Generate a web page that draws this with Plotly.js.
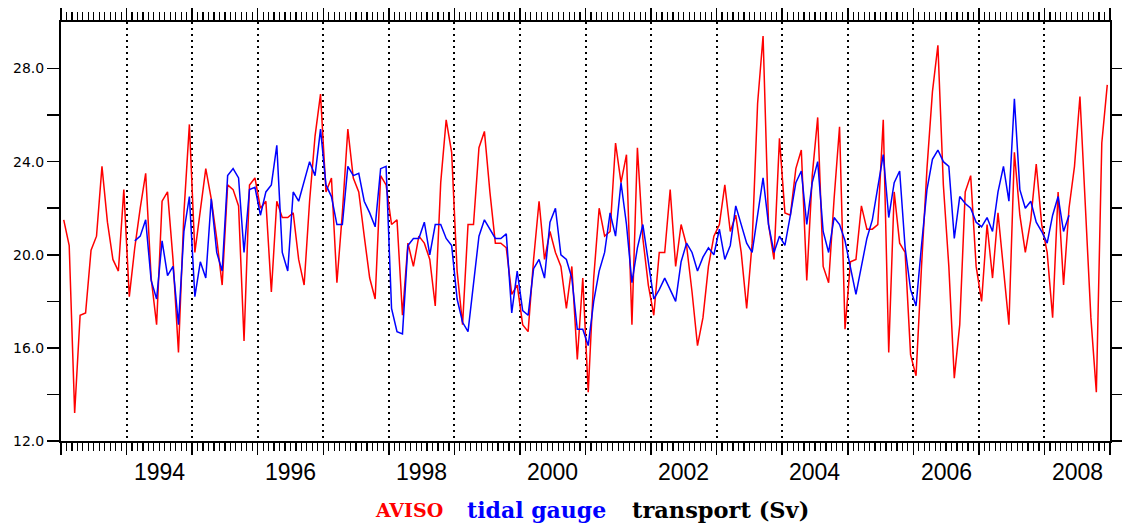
<!DOCTYPE html>
<html>
<head>
<meta charset="utf-8">
<script src="https://cdn.plot.ly/plotly-3.0.1.min.js"></script>
<style>html,body{margin:0;padding:0;background:#fff;}#chart{width:1122px;height:530px;}</style>
</head>
<body>
<div id="chart"></div>
<script>
// Monthly series, AVISO starts Jan 1993, tidal gauge starts Feb 1994
var avisoStart = 1993, avisoStartMonth = 1;
var gaugeStart = 1994, gaugeStartMonth = 2;

var aviso = [
21.5,20.4,13.2,17.4,17.5,20.2,20.8,23.8,21.4,19.8,19.3,22.8,
18.2,20.3,22.0,23.5,19.0,17.0,22.3,22.7,19.8,15.8,21.8,25.6,
20.1,21.8,23.7,22.4,20.7,18.7,23.0,22.8,22.1,16.3,23.0,23.3,
22.0,22.3,18.4,22.3,21.6,21.6,21.8,19.8,18.7,22.3,25.1,26.9,
22.7,23.3,18.8,21.8,25.4,23.3,22.7,20.8,19.0,18.1,23.4,23.0,
21.3,21.5,17.4,20.5,19.5,20.8,20.5,19.8,17.8,23.1,25.8,24.4,
19.3,17.0,21.3,21.3,24.6,25.3,22.7,20.5,20.5,20.3,18.3,18.7,
17.0,16.7,19.8,22.3,19.8,21.0,20.1,19.5,17.7,19.5,15.5,19.0,
14.1,19.0,22.0,20.8,21.0,24.8,23.1,24.3,17.0,24.6,20.7,18.7,
17.4,20.1,20.1,22.8,19.5,21.3,20.4,18.4,16.1,17.3,19.5,20.8,
21.3,23.0,21.0,21.7,20.1,17.7,20.5,26.5,29.4,21.3,19.8,25.0,
21.8,21.7,23.7,24.5,18.9,23.4,25.9,19.5,18.8,22.4,25.5,16.8,
19.7,19.8,22.1,21.1,21.1,21.3,25.8,15.8,22.7,20.5,20.1,15.7,
14.8,19.5,23.7,27.0,29.0,23.0,19.5,14.7,17.0,22.7,23.4,19.5,
18.0,21.3,19.0,21.8,19.5,17.0,24.4,21.7,20.1,21.5,23.9,21.3,
20.1,17.3,22.7,18.7,22.0,23.8,26.8,22.1,17.3,14.1,24.8,27.3
];

var gauge = [
20.6,20.8,21.5,18.9,18.1,20.6,19.1,19.5,17.0,21.0,22.5,
18.2,19.7,19.0,22.4,20.1,19.3,23.4,23.7,23.3,20.1,22.8,22.9,
21.7,22.7,23.0,24.7,20.1,19.3,22.7,22.3,23.1,24.0,23.4,25.4,
23.0,22.5,21.3,21.3,23.8,23.4,23.5,22.3,21.8,21.2,23.7,23.8,
17.7,16.7,16.6,20.4,20.7,20.7,21.4,20.0,21.3,21.3,20.7,20.4,
18.1,17.1,16.7,18.8,20.8,21.5,21.1,20.7,20.7,20.9,17.5,19.3,
17.6,17.4,19.4,19.8,19.0,21.4,22.0,20.0,19.8,19.0,16.8,16.8,
16.1,18.0,19.3,20.1,21.8,20.8,23.1,21.3,18.8,20.3,21.3,19.8,
18.1,18.5,19.0,18.5,18.0,19.7,20.5,20.1,19.3,19.9,20.3,20.0,
21.1,19.8,20.4,22.1,21.3,20.5,20.1,21.8,23.3,21.3,20.1,20.8,
20.4,21.7,23.1,23.6,21.3,23.1,24.0,21.0,20.1,21.6,21.3,20.6,
19.5,18.3,19.5,20.7,21.5,23.0,24.3,21.6,23.1,23.6,20.3,18.5,
17.8,20.4,22.8,24.1,24.5,24.0,23.8,20.7,22.5,22.2,22.0,21.4,
21.2,21.6,21.0,22.7,23.8,22.3,26.7,22.8,22.0,22.3,21.4,21.0,
20.5,21.7,22.5,21.0,21.7
];

var yearLabels = ['1994','1996','1998','2000','2002','2004','2006','2008'];
var yTickVals = [12,14,16,18,20,22,24,26,28];
var yTickText = ['12.0','','16.0','','20.0','','24.0','','28.0'];
var seriesNames = ['AVISO','tidal gauge'];
var unitLabel = 'transport (Sv)';

function monthTimes(startYear, startMonth, n){
  var t = [];
  for (var k = 0; k < n; k++) {
    t.push(startYear + (startMonth - 1 + k + 0.5) / 12);
  }
  return t;
}

var traces = [
  {x: monthTimes(avisoStart, avisoStartMonth, aviso.length), y: aviso, type:'scatter', mode:'lines',
   name: seriesNames[0], line:{color:'#ff0000', width:1.5}},
  {x: monthTimes(gaugeStart, gaugeStartMonth, gauge.length), y: gauge, type:'scatter', mode:'lines',
   name: seriesNames[1], line:{color:'#0000ff', width:1.5}}
];

var ann = [];
yearLabels.forEach(function(lbl){
  ann.push({x: +lbl + 0.5, xref:'x', y: -0.073, yref:'paper', text: lbl, showarrow:false,
    xanchor:'center', yanchor:'middle', font:{family:'Liberation Sans, Arial, sans-serif', size:23, color:'#000'}});
});
var legFont = 'DejaVu Serif, serif';
ann.push({x: 0.2974, xref:'paper', y: -0.165, yref:'paper', text:'<b>'+seriesNames[0]+'</b>', showarrow:false,
  xanchor:'left', yanchor:'middle', font:{family:legFont, size:19, color:'#ff0000'}});
ann.push({x: 0.385, xref:'paper', y: -0.165, yref:'paper', text:'<b>'+seriesNames[1]+'</b>', showarrow:false,
  xanchor:'left', yanchor:'middle', font:{family:legFont, size:22, color:'#0000ff'}});
ann.push({x: 0.5424, xref:'paper', y: -0.165, yref:'paper', text:'<b>'+unitLabel+'</b>', showarrow:false,
  xanchor:'left', yanchor:'middle', font:{family:legFont, size:22.5, color:'#000000'}});

var layout = {
  width:1122, height:530,
  margin:{l:61, r:12, t:22, b:89, pad:0},
  paper_bgcolor:'#fff', plot_bgcolor:'#fff',
  showlegend:false,
  xaxis:{range:[1993,2009], tick0:1993, dtick:1, ticks:'outside', ticklen:12, tickwidth:1.5, tickcolor:'#000',
    showticklabels:false, showline:true, linewidth:2, linecolor:'#000', mirror:'allticks',
    showgrid:true, gridcolor:'#000', gridwidth:2, griddash:'2px,4px', zeroline:false,
    minor:{tick0:1993, dtick:1/12, ticks:'outside', ticklen:8, tickwidth:1.2, tickcolor:'#000', showgrid:false}},
  yaxis:{range:[12,30], tickmode:'array', tickvals:yTickVals, ticktext:yTickText, ticks:'outside', ticklen:12,
    tickwidth:1.5, tickcolor:'#000', showline:true, linewidth:2, linecolor:'#000', mirror:'allticks',
    showgrid:false, zeroline:false, tickfont:{family:'DejaVu Sans, sans-serif', size:14, color:'#000'}},
  annotations: ann
};

Plotly.newPlot('chart', traces, layout, {displayModeBar:false, staticPlot:true});
</script>
</body>
</html>
